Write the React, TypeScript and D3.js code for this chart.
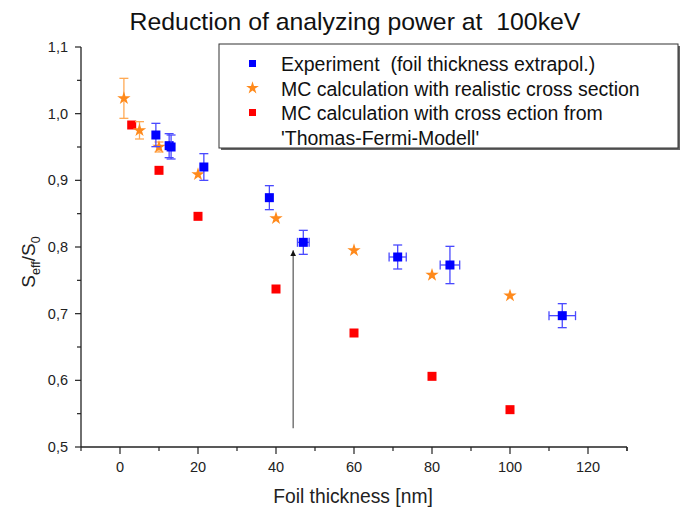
import React from "react";
import * as d3 from "d3";

const title = "Reduction of analyzing power at  100keV";
const xLabel = "Foil thickness [nm]";
const xTicks = [0, 20, 40, 60, 80, 100, 120];
const yTicks = [0.5, 0.6, 0.7, 0.8, 0.9, 1.0, 1.1];

// Experiment (blue squares)
const expX = [9.2, 12.6, 13.1, 21.5, 38.3, 47.0, 71.2, 84.6, 113.4];
const expY = [0.968, 0.952, 0.950, 0.920, 0.874, 0.807, 0.785, 0.773, 0.697];
const expYErr = [0.0175, 0.018, 0.018, 0.02, 0.018, 0.018, 0.018, 0.028, 0.018];
const expXErr = [0, 0, 0, 0, 0, 1.5, 2.2, 2.5, 3.4];

// MC realistic cross section (orange stars)
const mcX = [1, 5, 10, 20, 40, 60, 80, 100];
const mcY = [1.023, 0.975, 0.950, 0.909, 0.843, 0.795, 0.758, 0.727];
const mcYErr = [0.03, 0.013, 0.0075, 0, 0, 0, 0, 0];

// MC Thomas-Fermi (red squares)
const tfX = [3, 10, 20, 40, 60, 80, 100];
const tfY = [0.983, 0.915, 0.846, 0.737, 0.671, 0.606, 0.556];

const legendLabels = [
  "Experiment  (foil thickness extrapol.)",
  "MC calculation with realistic cross section",
  "MC calculation with cross ection from",
  "'Thomas-Fermi-Modell'",
];

const arrowX = 44.4;
const arrowY0 = 0.528;
const arrowY1 = 0.795;

export default function App() {
  const W = 687, H = 511;
  const x = d3.scaleLinear().domain([-10, 130]).range([81, 627]);
  const y = d3.scaleLinear().domain([0.5, 1.1]).range([447, 47]);
  const font = "'Liberation Sans', Arial, sans-serif";
  const blue = "#0000ff", red = "#ff0000", orange = "#ff8a1c";
  const star = d3.symbol().type(d3.symbolStar).size(55)() as string;
  const starSmall = d3.symbol().type(d3.symbolStar).size(50)() as string;
  const minorX = d3.range(-10, 131, 10).filter((v) => v % 20 !== 0);
  const minorY = d3.range(0.55, 1.1, 0.1);
  const pre = { whiteSpace: "pre" as const };

  return (
    <svg width={W} height={H} style={{ position: "absolute", left: 0, top: 0, background: "#fff" }} fontFamily={font}>
      <rect width={W} height={H} fill="#fff" />
      <text x={355} y={30} textAnchor="middle" fontSize={24.8} fill="#111" style={pre}>{title}</text>

      {/* axes */}
      <line x1={81} x2={627} y1={447} y2={447} stroke="#222" strokeWidth={1.3} />
      <line x1={81} x2={81} y1={47} y2={447} stroke="#222" strokeWidth={1.3} />
      {xTicks.map((t) => (
        <g key={"xt" + t}>
          <line x1={x(t)} x2={x(t)} y1={447} y2={454} stroke="#222" strokeWidth={1.2} />
          <text x={x(t)} y={472} textAnchor="middle" fontSize={14.5} fill="#222">{t}</text>
        </g>
      ))}
      {minorX.map((t) => (
        <line key={"xm" + t} x1={x(t)} x2={x(t)} y1={447} y2={451} stroke="#222" strokeWidth={1.2} />
      ))}
      <line x1={627} x2={627} y1={447} y2={451} stroke="#222" strokeWidth={1.2} />
      {yTicks.map((t) => (
        <g key={"yt" + t}>
          <line x1={75} x2={81} y1={y(t)} y2={y(t)} stroke="#222" strokeWidth={1.2} />
          <text x={68} y={y(t) + 5} textAnchor="end" fontSize={14.5} fill="#222">{t.toFixed(1).replace(".", ",")}</text>
        </g>
      ))}
      {minorY.map((t) => (
        <line key={"ym" + t} x1={77} x2={81} y1={y(t)} y2={y(t)} stroke="#222" strokeWidth={1.2} />
      ))}
      <text x={353} y={503} textAnchor="middle" fontSize={19.3} fill="#222">{xLabel}</text>
      <text transform="translate(35,262) rotate(-90)" textAnchor="middle" fontSize={19} fill="#222">
        S<tspan fontSize={12.5} dy={5}>eff</tspan><tspan dy={-5}>/S</tspan><tspan fontSize={12.5} dy={5}>0</tspan>
      </text>

      {/* arrow */}
      <defs>
        <marker id="ah" viewBox="0 0 10 10" refX={10} refY={5} markerWidth={6} markerHeight={10} orient="auto" markerUnits="userSpaceOnUse">
          <path d="M0,0 L10,5 L0,10 z" fill="#111" />
        </marker>
      </defs>
      <line x1={x(arrowX)} x2={x(arrowX)} y1={y(arrowY0)} y2={y(arrowY1)} stroke="#555" strokeWidth={1.2} markerEnd="url(#ah)" />

      {/* red squares */}
      {tfX.map((v, i) => (
        <rect key={"tf" + i} x={x(v) - 4.5} y={y(tfY[i]) - 4.5} width={9} height={9} fill={red} />
      ))}

      {/* orange stars */}
      {mcX.map((v, i) => {
        const cx = x(v), cy = y(mcY[i]);
        const e = mcYErr[i];
        return (
          <g key={"mc" + i}>
            {e > 0 && (
              <g stroke="#ffaa55" strokeWidth={1.3}>
                <line x1={cx} x2={cx} y1={y(mcY[i] + e)} y2={y(mcY[i] - e)} />
                <line x1={cx - 4.5} x2={cx + 4.5} y1={y(mcY[i] + e)} y2={y(mcY[i] + e)} />
                <line x1={cx - 4.5} x2={cx + 4.5} y1={y(mcY[i] - e)} y2={y(mcY[i] - e)} />
              </g>
            )}
            <path d={star} transform={`translate(${cx},${cy})`} fill={orange} />
          </g>
        );
      })}

      {/* blue experiment */}
      {expX.map((v, i) => {
        const cx = x(v), cy = y(expY[i]);
        const e = expYErr[i], ex = expXErr[i];
        return (
          <g key={"ex" + i}>
            <g stroke="#4a4aff" strokeWidth={1.3}>
              <line x1={cx} x2={cx} y1={y(expY[i] + e)} y2={y(expY[i] - e)} />
              <line x1={cx - 4.5} x2={cx + 4.5} y1={y(expY[i] + e)} y2={y(expY[i] + e)} />
              <line x1={cx - 4.5} x2={cx + 4.5} y1={y(expY[i] - e)} y2={y(expY[i] - e)} />
              {ex > 0 && (
                <>
                  <line x1={x(v - ex)} x2={x(v + ex)} y1={cy} y2={cy} />
                  <line x1={x(v - ex)} x2={x(v - ex)} y1={cy - 4.5} y2={cy + 4.5} />
                  <line x1={x(v + ex)} x2={x(v + ex)} y1={cy - 4.5} y2={cy + 4.5} />
                </>
              )}
            </g>
            <rect x={cx - 4.5} y={cy - 4.5} width={9} height={9} fill={blue} />
          </g>
        );
      })}

      {/* legend */}
      <rect x={221} y={46} width={459} height={104} fill="#666" />
      <rect x={219} y={44} width={459} height={104} fill="#fff" stroke="#333" strokeWidth={1} />
      <rect x={249} y={60} width={7} height={7} fill={blue} />
      <path d={starSmall} transform="translate(252.5,88)" fill={orange} />
      <rect x={249} y={109} width={7} height={7} fill={red} />
      {legendLabels.map((t, i) => (
        <text key={"lg" + i} x={281} y={71 + i * 24.5} fontSize={19.5} fill="#111" style={pre}>{t}</text>
      ))}
    </svg>
  );
}
